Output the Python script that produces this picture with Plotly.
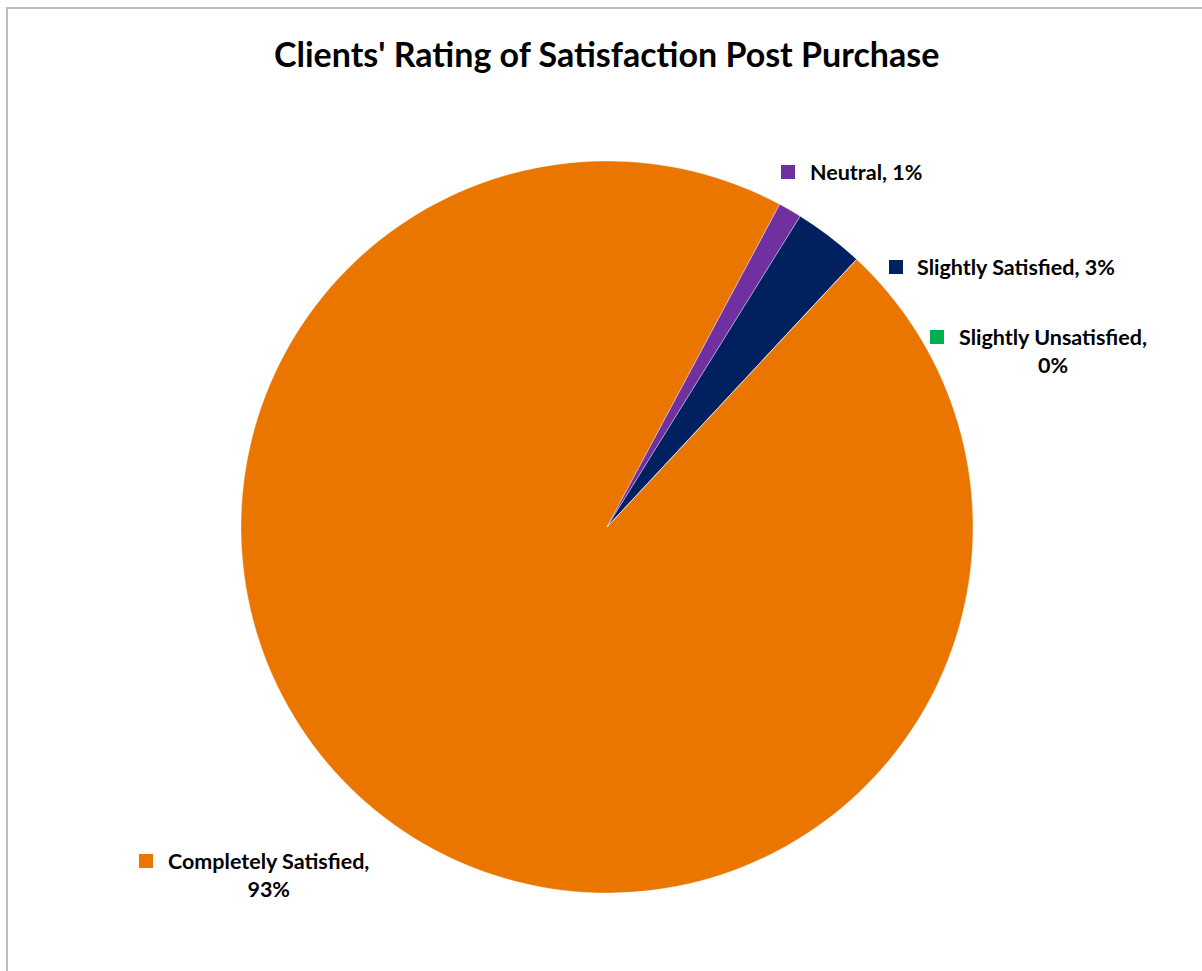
import plotly.graph_objects as go

# Survey results (percent of clients)
categories = ["Completely Satisfied", "Neutral", "Slightly Satisfied", "Slightly Unsatisfied"]
percents = [93, 1, 3, 0]
colors = ["#EA7600", "#7030A0", "#002060", "#00B050"]

W, H = 1202, 971
FONT = "Lato"
LABEL_SIZE = 21.5


def px(x):
    return x / W


def py(y):
    return 1 - y / H


fig = go.Figure(
    go.Pie(
        labels=categories,
        values=percents,
        sort=False,
        direction="clockwise",
        rotation=43,
        marker=dict(colors=colors, line=dict(color="rgba(255,255,255,0.6)", width=0.6)),
        textinfo="none",
        hoverinfo="label+value",
        showlegend=False,
        domain=dict(x=[px(607 - 366), px(607 + 366)], y=[py(893), py(161)]),
    )
)

# data label placement: (square left, square top, text x, centre y of first line, two-line?)
label_pos = {
    "Neutral": (781, 165, 808, 171, False),
    "Slightly Satisfied": (889, 260, 915, 266, False),
    "Slightly Unsatisfied": (930, 330, 957, 336, True),
    "Completely Satisfied": (139, 854, 166, 860, True),
}

shapes = [
    # chart area border (left and top edges visible)
    dict(type="rect", xref="paper", yref="paper",
         x0=px(7), x1=px(W + 10), y0=py(H + 10), y1=py(8),
         line=dict(color="#BFBFBF", width=2), fillcolor="rgba(0,0,0,0)", layer="below"),
]
annotations = []
for cat, val, col in zip(categories, percents, colors):
    sx, sy, tx, ty, two = label_pos[cat]
    shapes.append(dict(type="rect", xref="paper", yref="paper",
                       x0=px(sx), x1=px(sx + 14), y0=py(sy + 14), y1=py(sy),
                       fillcolor=col, line=dict(width=0)))
    text = f"{cat},<br>{val}%" if two else f"{cat}, {val}%"
    annotations.append(dict(
        xref="paper", yref="paper", x=px(tx), y=py(ty - 0.66 * LABEL_SIZE),
        xanchor="left", yanchor="top", align="center",
        text=f"<b>{text}</b>", showarrow=False,
        font=dict(family=FONT, size=LABEL_SIZE, color="#000000"),
    ))

annotations.append(dict(
    xref="paper", yref="paper", x=px(606), y=py(54), xanchor="center", yanchor="middle",
    text="<b>Clients' Rating of Satisfaction Post Purchase</b>", showarrow=False,
    font=dict(family=FONT, size=34, color="#000000"),
))

fig.update_layout(
    width=W, height=H,
    margin=dict(l=0, r=0, t=0, b=0),
    paper_bgcolor="#FFFFFF",
    plot_bgcolor="#FFFFFF",
    shapes=shapes,
    annotations=annotations,
)

fig.write_html("out.html")
